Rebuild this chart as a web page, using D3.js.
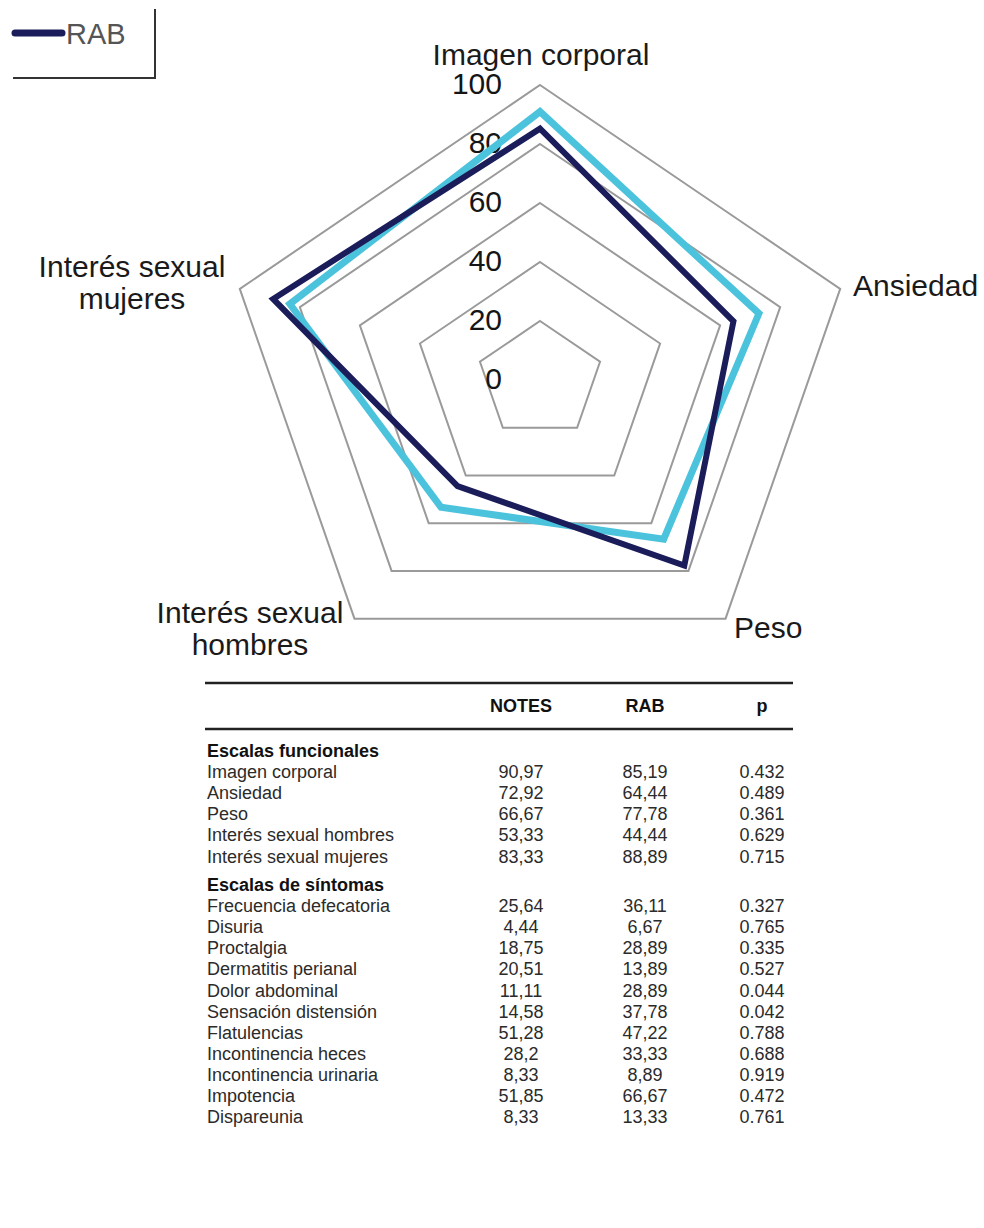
<!DOCTYPE html>
<html>
<head>
<meta charset="utf-8">
<script src="https://cdn.jsdelivr.net/npm/d3@7"></script>
<style>
  body { margin: 0; background: #fff; }
  svg { display: block; font-family: "Liberation Sans", Arial, sans-serif; }
</style>
</head>
<body>
<svg id="chart" width="984" height="1228"></svg>
<script>
// radar data
const axes = ["Imagen corporal", "Ansiedad", "Peso", "Interés sexual hombres", "Interés sexual mujeres"];
const notesValues = [90.97, 72.92, 66.67, 53.33, 83.33];
const rabValues = [85.19, 64.44, 77.78, 44.44, 88.89];
const ringTicks = [0, 20, 40, 60, 80, 100];

// table data
const funcLabels = ["Imagen corporal", "Ansiedad", "Peso", "Interés sexual hombres", "Interés sexual mujeres"];
const funcNotes = ["90,97", "72,92", "66,67", "53,33", "83,33"];
const funcRab = ["85,19", "64,44", "77,78", "44,44", "88,89"];
const funcP = ["0.432", "0.489", "0.361", "0.629", "0.715"];

const sympLabels = ["Frecuencia defecatoria", "Disuria", "Proctalgia", "Dermatitis perianal", "Dolor abdominal",
  "Sensación distensión", "Flatulencias", "Incontinencia heces", "Incontinencia urinaria", "Impotencia", "Dispareunia"];
const sympNotes = ["25,64", "4,44", "18,75", "20,51", "11,11", "14,58", "51,28", "28,2", "8,33", "51,85", "8,33"];
const sympRab = ["36,11", "6,67", "28,89", "13,89", "28,89", "37,78", "47,22", "33,33", "8,89", "66,67", "13,33"];
const sympP = ["0.327", "0.765", "0.335", "0.527", "0.044", "0.042", "0.788", "0.688", "0.919", "0.472", "0.761"];

const svg = d3.select("#chart");

// ---- radar ----
const cx = 540, cy = 380, sx = 1.07;
const rScale = d3.scaleLinear().domain([0, 100]).range([0, 295]);
const angle = i => i * 2 * Math.PI / axes.length;
const pt = (v, i) => [cx + sx * rScale(v) * Math.sin(angle(i)), cy - rScale(v) * Math.cos(angle(i))];
const line = d3.line().curve(d3.curveLinearClosed);

const radar = svg.append("g").attr("class", "radar");

// grid pentagons (0 collapses to the centre, so skip it)
radar.selectAll(".ring")
  .data(ringTicks.filter(t => t > 0))
  .join("path")
  .attr("class", "ring")
  .attr("d", t => line(axes.map((a, i) => pt(t, i))))
  .attr("fill", "none")
  .attr("stroke", "#9a9a9a")
  .attr("stroke-width", 2);

// tick labels
radar.selectAll(".tick-label")
  .data(ringTicks)
  .join("text")
  .attr("class", "tick-label")
  .attr("x", cx - 38)
  .attr("y", t => cy - rScale(t) + 9)
  .attr("text-anchor", "end")
  .attr("font-size", 30)
  .attr("fill", "#151515")
  .text(t => t);

// series: NOTES under, RAB on top
const series = [
  {name: "NOTES", values: notesValues, color: "#4cc3dc", width: 7},
  {name: "RAB", values: rabValues, color: "#1b1c5a", width: 6}
];
radar.selectAll(".series")
  .data(series)
  .join("path")
  .attr("class", "series")
  .attr("d", s => line(s.values.map((v, i) => pt(v, i))))
  .attr("fill", "none")
  .attr("stroke", s => s.color)
  .attr("stroke-width", s => s.width)
  .attr("stroke-linejoin", "miter");

// axis labels
const axisLabelPos = [
  {lines: ["Imagen corporal"], x: 541, y: 65, anchor: "middle"},
  {lines: ["Ansiedad"], x: 853, y: 296, anchor: "start"},
  {lines: ["Peso"], x: 734, y: 638, anchor: "start"},
  {lines: ["Interés sexual", "hombres"], x: 250, y: 623, anchor: "middle"},
  {lines: ["Interés sexual", "mujeres"], x: 132, y: 277, anchor: "middle"}
];
axisLabelPos.forEach(d => {
  const t = radar.append("text")
    .attr("x", d.x).attr("y", d.y)
    .attr("text-anchor", d.anchor)
    .attr("font-size", 30)
    .attr("fill", "#1a1a1a");
  d.lines.forEach((l, k) => t.append("tspan").attr("x", d.x).attr("dy", k === 0 ? 0 : 32).text(l));
});

// legend (only the RAB entry is visible)
const legend = svg.append("g").attr("class", "legend");
legend.append("path")
  .attr("d", "M13,78 H155 V9")
  .attr("fill", "none")
  .attr("stroke", "#333")
  .attr("stroke-width", 2);
legend.append("line")
  .attr("x1", 15).attr("x2", 62).attr("y1", 33).attr("y2", 33)
  .attr("stroke", "#1b1c5a").attr("stroke-width", 7).attr("stroke-linecap", "round");
legend.append("text")
  .attr("x", 66).attr("y", 44)
  .attr("font-size", 29)
  .attr("fill", "#555")
  .text("RAB");

// ---- table ----
const table = svg.append("g").attr("class", "table");
const tLeft = 205, tRight = 793;
const colX = {notes: 521, rab: 645, p: 762};
const rowH = 21.1;
const fs = 18;

table.append("line").attr("x1", tLeft).attr("x2", tRight).attr("y1", 683).attr("y2", 683)
  .attr("stroke", "#222").attr("stroke-width", 2.5);
table.append("line").attr("x1", tLeft).attr("x2", tRight).attr("y1", 729).attr("y2", 729)
  .attr("stroke", "#222").attr("stroke-width", 2.5);

[["NOTES", colX.notes], ["RAB", colX.rab], ["p", colX.p]].forEach(([h, x]) => {
  table.append("text").attr("x", x).attr("y", 712)
    .attr("text-anchor", "middle").attr("font-size", fs).attr("font-weight", "bold")
    .attr("fill", "#111").text(h);
});

function section(title, labels, nv, rv, pv, y0) {
  table.append("text").attr("x", 207).attr("y", y0 + 6)
    .attr("font-size", fs).attr("font-weight", "bold").attr("fill", "#111").text(title);
  const rows = labels.map((l, i) => ({label: l, n: nv[i], r: rv[i], p: pv[i], y: y0 + rowH * (i + 1) + 6}));
  const g = table.append("g");
  const row = g.selectAll("g").data(rows).join("g");
  row.append("text").attr("x", 207).attr("y", d => d.y).text(d => d.label);
  row.append("text").attr("x", colX.notes).attr("y", d => d.y).attr("text-anchor", "middle").text(d => d.n);
  row.append("text").attr("x", colX.rab).attr("y", d => d.y).attr("text-anchor", "middle").text(d => d.r);
  row.append("text").attr("x", colX.p).attr("y", d => d.y).attr("text-anchor", "middle").text(d => d.p);
  row.selectAll("text").attr("font-size", fs).attr("fill", "#2b2b2b");
}

section("Escalas funcionales", funcLabels, funcNotes, funcRab, funcP, 751);
section("Escalas de síntomas", sympLabels, sympNotes, sympRab, sympP, 885);
</script>
</body>
</html>
